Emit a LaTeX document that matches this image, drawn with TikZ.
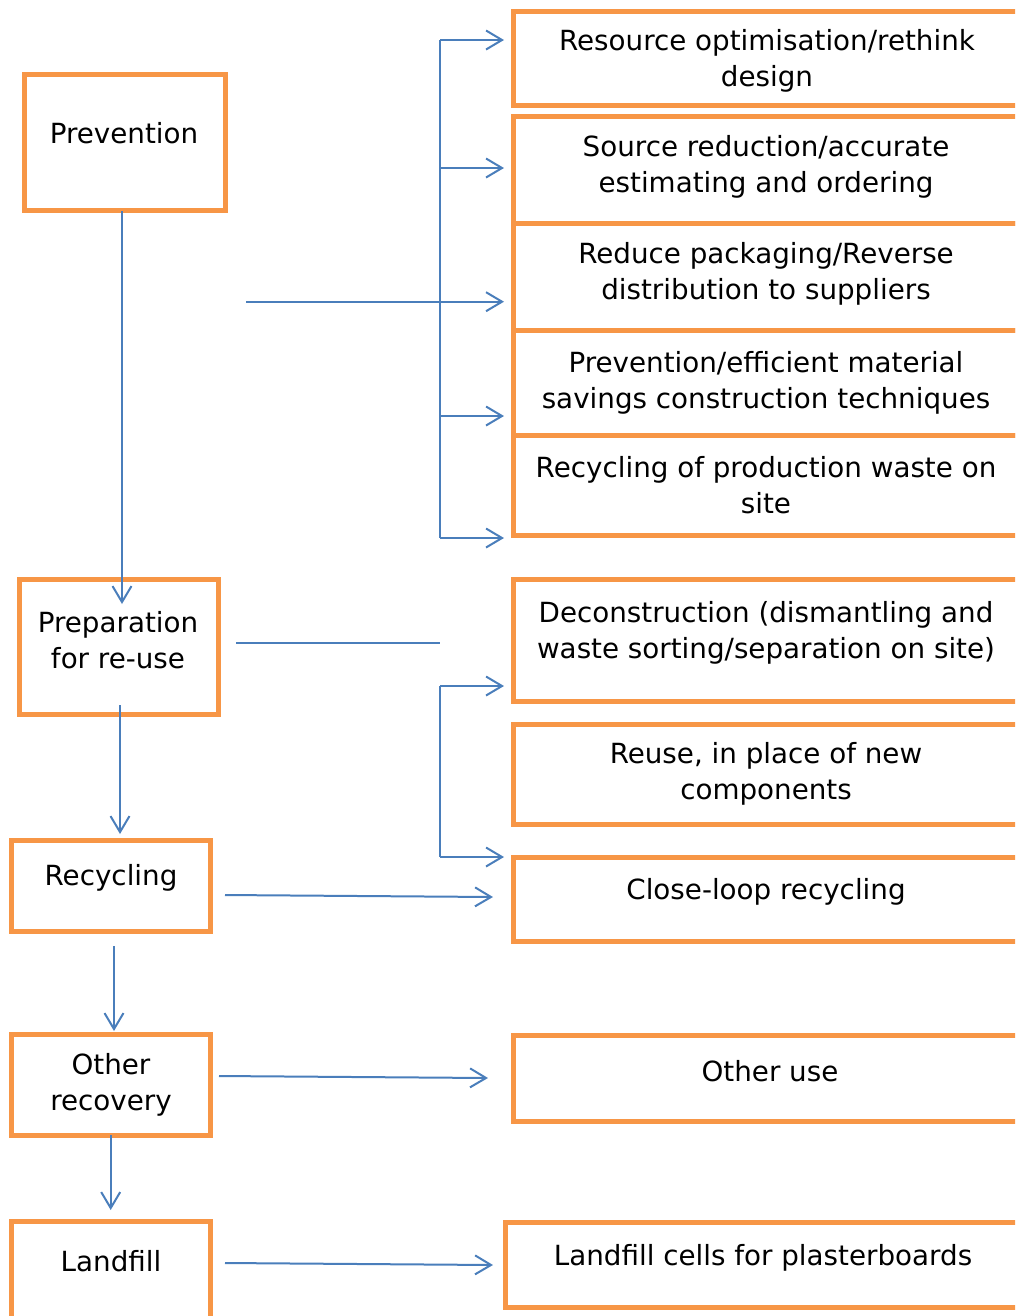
\documentclass[tikz,border=0pt]{standalone}
\usepackage{fontspec}
\setmainfont{DejaVu Sans}
\usetikzlibrary{positioning, arrows.meta}
\definecolor{boxorange}{HTML}{F79646}
\definecolor{linkblue}{HTML}{4A7EBB}
\tikzset{
  stage/.style={
    draw=boxorange,
    line width=0.1cm,
    rectangle,
    outer sep=0pt,
    minimum width=4cm
  },
  option/.style={
    draw=boxorange,
    line width=0.1cm,
    rectangle,
    outer sep=0pt,
    minimum width=10.13cm
  },
  boxtext/.style={
    align=center,
    inner sep=0pt,
    font=\fontsize{15.8pt}{20.3pt}\selectfont
  },
  linkline/.style={
    draw=linkblue,
    line width=0.04cm
  },
  link/.style={
    linkline,
    -{Straight Barb[length=0.32cm, width=0.38cm]}
  }
}

\begin{document}
\begin{tikzpicture}[x=0.02cm, y=-0.02cm]
    \useasboundingbox (0,0) rectangle (1015,1316);
    \clip (0,0) rectangle (1015,1316);

    % waste hierarchy
    \node[stage, minimum width=4.04cm, minimum height=2.74cm] (prev) at (125,142.5) {};
    \node[stage, minimum height=2.72cm] (prep) at (119,647) {};
    \node[stage, minimum height=1.82cm] (recy) at (111,885.5) {};
    \node[stage, minimum height=2.02cm] (othr) at (111,1084.5) {};
    \node[stage, minimum height=2.18cm] (land) at (111,1275.5) {};

    \node[boxtext] (prevtext) at (124,133.5) {Prevention};
    \node[boxtext] (preptext) at (118,640) {Preparation\\for re-use};
    \node[boxtext] (recytext) at (111,878) {Recycling};
    \node[boxtext] (othrtext) at (111,1085) {Other\\recovery};
    \node[boxtext] (landtext) at (111,1261) {Landfill};

    % options for each level
    \node[option, minimum height=1.89cm] (ropt) at (766.75,58.25) {};
    \node[option, minimum height=2.15cm] (srcr) at (766.75,170.25) {};
    \node[option, minimum height=2.14cm, below=0pt of srcr] (redp) {};
    \node[option, minimum height=2.1cm, below=0pt of redp] (prve) {};
    \node[option, minimum height=2cm, below=0pt of prve] (recp) {};
    \node[option, minimum height=2.46cm] (dcon) at (766.75,640.5) {};
    \node[option, minimum height=2cm] (reus) at (766.75,774) {};
    \node[option, minimum height=1.68cm] (clsl) at (766.75,899) {};
    \node[option, minimum height=1.72cm] (othu) at (766.75,1078) {};
    \node[option, minimum width=10.29cm, minimum height=1.7cm] (lfcl) at (762.75,1264.5) {};

    \node[boxtext] (ropttext) at (767,61) {Resource optimisation/rethink\\design};
    \node[boxtext] (srcrtext) at (766,167) {Source reduction/accurate\\estimating and ordering};
    \node[boxtext] (redptext) at (766,274) {Reduce packaging/Reverse\\distribution to suppliers};
    \node[boxtext] (prvetext) at (766,383) {Prevention/efficient material\\savings construction techniques};
    \node[boxtext] (recptext) at (766,485) {Recycling of production waste on\\site};
    \node[boxtext] (dcontext) at (766,633) {Deconstruction (dismantling and\\waste sorting/separation on site)};
    \node[boxtext] (reustext) at (766,774) {Reuse, in place of new\\components};
    \node[boxtext] (clsltext) at (766,892) {Close-loop recycling};
    \node[boxtext] (othutext) at (770,1071) {Other use};
    \node[boxtext] (lfcltext) at (763,1258) {Landfill cells for plasterboards};

    % connector ends
    \coordinate (trunk) at (440,40);
    \coordinate (roptin) at (504,40);
    \coordinate (srcrin) at (504,168);
    \coordinate (redpin) at (504,301.7);
    \coordinate (prvein) at (504,416);
    \coordinate (recpin) at (504,538);
    \coordinate (prevside) at (246,301.7);
    \coordinate (prevdown) at (122,211);
    \coordinate (prepin) at (122,604);
    \coordinate (prepside) at (236,643);
    \coordinate (dconin) at (504,686);
    \coordinate (clslin) at (504,857);
    \coordinate (prepdown) at (120,705);
    \coordinate (recyin) at (120,834);
    \coordinate (recyside) at (225,895);
    \coordinate (clslside) at (493,897);
    \coordinate (recydown) at (114,946);
    \coordinate (othrin) at (114,1031);
    \coordinate (othrside) at (219,1076);
    \coordinate (othuin) at (488,1078);
    \coordinate (othrdown) at (110.7,1135);
    \coordinate (landin) at (110.7,1210);
    \coordinate (landside) at (225,1263);
    \coordinate (lfclin) at (493,1265);

    \draw[linkline] (trunk) -- (trunk |- recpin);
    \foreach \tip in {roptin,srcrin,prvein,recpin}
        \draw[link] (trunk |- \tip) -- (\tip);
    \draw[link] (prevside) -- (redpin);
    \draw[link] (prevdown) -- (prepin);

    \draw[linkline] (prepside) -- (prepside -| trunk);
    \draw[linkline] (dconin -| trunk) -- (clslin -| trunk);
    \draw[link] (dconin -| trunk) -- (dconin);
    \draw[link] (clslin -| trunk) -- (clslin);
    \draw[link] (prepdown) -- (recyin);

    \draw[link] (recyside) -- (clslside);
    \draw[link] (recydown) -- (othrin);
    \draw[link] (othrside) -- (othuin);
    \draw[link] (othrdown) -- (landin);
    \draw[link] (landside) -- (lfclin);
\end{tikzpicture}
\end{document}
